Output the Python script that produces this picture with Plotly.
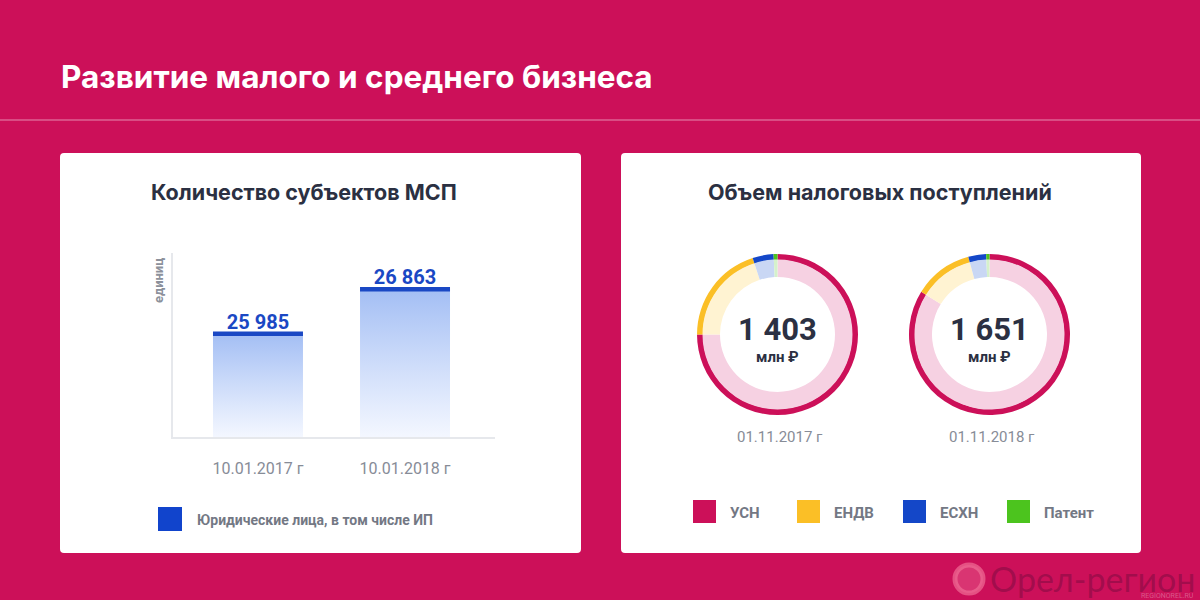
import plotly.graph_objects as go

W, H = 1200, 600


def px(x):
    return x / W


def py(y):
    return 1 - y / H


# ---------------- data ----------------
bar_dates = ["10.01.2017 г", "10.01.2018 г"]
bar_values = [25985, 26863]
bar_labels = ["25 985", "26 863"]
bar_series = "Юридические лица, в том числе ИП"
bar_unit = "единиц"

tax_categories = ["УСН", "ЕНДВ", "ЕСХН", "Патент"]
tax_2017 = [1052, 281, 59, 11]
tax_2018 = [1385, 196, 59, 11]
tax_totals = ["1 403", "1 651"]
tax_unit = "млн ₽"
tax_dates = ["01.11.2017 г", "01.11.2018 г"]

main_title = "Развитие малого и среднего бизнеса"
left_title = "Количество субъектов МСП"
right_title = "Объем налоговых поступлений"

# ---------------- styles ----------------
BG = "#CC1059"
DARK = "#2B3042"
GREY = "#878C97"
LEG_GREY = "#737884"
BLUE = "#1A48C4"
FONT = "Roboto"
HEAD_FONT = "Inter"
tax_colors = ["#CC1059", "#FBBF26", "#1447C8", "#4CC41E"]
tax_light = ["#F6D1E2", "#FFF3D2", "#C9D7F4", "#D5F1CB"]

Y0 = 23950
Y1 = 27580
HALF_W = 0.306

fig = go.Figure()

# ---------------- bars (gradient body + cap) ----------------
for i, v in enumerate(bar_values):
    fig.add_trace(go.Scatter(
        x=[i - HALF_W, i + HALF_W, i + HALF_W, i - HALF_W, i - HALF_W],
        y=[Y0, Y0, v, v, Y0],
        mode="lines", fill="toself", line=dict(width=0),
        fillgradient=dict(type="vertical",
                          colorscale=[[0, "rgba(242,246,255,0.9)"], [1, "#A3BEF4"]],
                          start=Y0, stop=v),
        hoverinfo="skip", showlegend=False,
    ))
    fig.add_trace(go.Scatter(
        x=[i - HALF_W, i + HALF_W], y=[v, v], mode="lines",
        line=dict(color=BLUE, width=4.5), hoverinfo="skip", showlegend=False,
    ))

fig.add_trace(go.Scatter(
    x=list(range(len(bar_values))), y=bar_values, mode="text",
    text=bar_labels, textposition="top center",
    textfont=dict(family=FONT, size=20, color=BLUE, weight="bold"),
    showlegend=False, hoverinfo="skip",
))

# ---------------- donuts ----------------
donut_centers = [(777.5, 334.5), (989.5, 334.5)]
R_OUT, R_MID, R_IN = 80.5, 74.5, 57.5
for (cx, cy), vals in zip(donut_centers, [tax_2017, tax_2018]):
    fig.add_trace(go.Pie(
        labels=tax_categories, values=vals, sort=False, direction="clockwise",
        rotation=0, hole=R_MID / R_OUT, textinfo="none", hoverinfo="skip",
        marker=dict(colors=tax_colors, line=dict(width=0)), showlegend=False,
        domain=dict(x=[px(cx - R_OUT), px(cx + R_OUT)], y=[py(cy + R_OUT), py(cy - R_OUT)]),
    ))
    fig.add_trace(go.Pie(
        labels=tax_categories, values=vals, sort=False, direction="clockwise",
        rotation=0, hole=R_IN / (R_MID + 0.5), textinfo="none", hoverinfo="skip",
        marker=dict(colors=tax_light, line=dict(width=0)), showlegend=False,
        domain=dict(x=[px(cx - R_MID - 0.5), px(cx + R_MID + 0.5)],
                    y=[py(cy + R_MID + 0.5), py(cy - R_MID - 0.5)]),
    ))


# ---------------- shapes ----------------
def rounded_rect(x0, y0, x1, y1, r):
    pts = [
        f"M {px(x0 + r)} {py(y0)}",
        f"L {px(x1 - r)} {py(y0)}",
        f"Q {px(x1)} {py(y0)} {px(x1)} {py(y0 + r)}",
        f"L {px(x1)} {py(y1 - r)}",
        f"Q {px(x1)} {py(y1)} {px(x1 - r)} {py(y1)}",
        f"L {px(x0 + r)} {py(y1)}",
        f"Q {px(x0)} {py(y1)} {px(x0)} {py(y1 - r)}",
        f"L {px(x0)} {py(y0 + r)}",
        f"Q {px(x0)} {py(y0)} {px(x0 + r)} {py(y0)}",
        "Z",
    ]
    return " ".join(pts)


shapes = [
    dict(type="line", xref="paper", yref="paper", x0=0, x1=1, y0=py(120), y1=py(120),
         line=dict(color="rgba(255,255,255,0.35)", width=1.5), layer="below"),
    dict(type="path", xref="paper", yref="paper", path=rounded_rect(60, 153, 581, 553, 4),
         fillcolor="white", line=dict(width=0), layer="below"),
    dict(type="path", xref="paper", yref="paper", path=rounded_rect(621, 153, 1141, 553, 4),
         fillcolor="white", line=dict(width=0), layer="below"),
    # legend square (bars)
    dict(type="rect", xref="paper", yref="paper", x0=px(158), x1=px(182), y0=py(531), y1=py(507),
         fillcolor="#1144CC", line=dict(width=0)),
]
leg_x = [693, 797, 903, 1007]
for lx, col in zip(leg_x, tax_colors):
    shapes.append(dict(type="rect", xref="paper", yref="paper", x0=px(lx), x1=px(lx + 23),
                       y0=py(523), y1=py(500), fillcolor=col, line=dict(width=0)))

# watermark logo ring
shapes.append(dict(type="circle", xref="paper", yref="paper",
                   x0=px(955), x1=px(983), y0=py(593), y1=py(565),
                   line=dict(color="rgba(240,110,150,0.7)", width=5),
                   fillcolor="rgba(230,90,140,0.5)"))

# ---------------- annotations ----------------
ann = []


def text(x, y, s, size, color, weight="normal", xanchor="center", angle=0, family=FONT,
         yanchor="middle", align="center"):
    ann.append(dict(x=px(x), y=py(y), xref="paper", yref="paper", text=s, showarrow=False,
                    xanchor=xanchor, yanchor=yanchor, textangle=angle, align=align,
                    font=dict(family=family, size=size, color=color, weight=weight)))


text(59, 77, main_title, 31.5, "white", "bold", xanchor="left", family=HEAD_FONT)
text(304, 192, left_title, 21.5, DARK, "bold", family=HEAD_FONT)
text(880, 192, right_title, 21.5, DARK, "bold", family=HEAD_FONT)
text(158, 280, bar_unit, 13, "#8C919B", "bold", angle=-90)
text(195, 520, bar_series, 14, LEG_GREY, "bold", xanchor="left")
for lx, cat in zip(leg_x, tax_categories):
    text(lx + 35, 513, cat, 15, LEG_GREY, "bold", xanchor="left")
for (cx, cy), tot, d in zip(donut_centers, tax_totals, tax_dates):
    text(cx, cy - 5, tot, 31, DARK, "bold")
    text(cx, cy + 22, tax_unit, 15, DARK, "bold")
    text(cx + 2, 437, d, 15, GREY)

# watermark
text(988, 578, "Орел-регион", 34, "rgba(110,10,60,0.45)", "normal", xanchor="left", family="Lato")
text(1196, 596, "REGIONOREL.RU", 7, "rgba(255,255,255,0.3)", xanchor="right")

fig.update_layout(
    width=W, height=H,
    margin=dict(l=0, r=0, t=0, b=0),
    paper_bgcolor=BG, plot_bgcolor="rgba(0,0,0,0)",
    shapes=shapes, annotations=ann,
    xaxis=dict(domain=[px(173), px(495)], range=[-0.578, 1.612],
               tickvals=list(range(len(bar_dates))), ticktext=bar_dates,
               showline=True, linecolor="#E6E8EC", linewidth=1.5,
               showgrid=False, zeroline=False, ticks="", ticklabelstandoff=16,
               tickfont=dict(family=FONT, size=16, color=GREY), fixedrange=True),
    yaxis=dict(domain=[py(437), py(253)], range=[Y0, Y1],
               showline=True, linecolor="#E6E8EC", linewidth=1.5,
               showgrid=False, zeroline=False, showticklabels=False, ticks="",
               fixedrange=True),
    showlegend=False,
)

fig.write_html("out.html")
